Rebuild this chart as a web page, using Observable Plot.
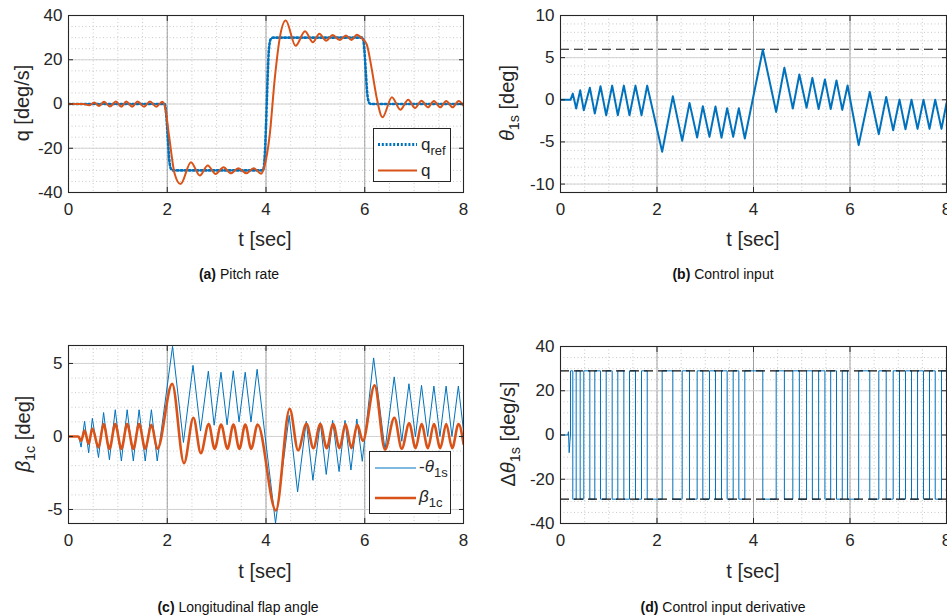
<!DOCTYPE html>
<html><head><meta charset="utf-8">
<script src="https://cdn.jsdelivr.net/npm/d3@7"></script>
<script src="https://cdn.jsdelivr.net/npm/@observablehq/plot@0.6"></script>
<style>
body{margin:0;background:#fff;}
#root{position:relative;width:947px;height:616px;overflow:hidden;background:#fff;font-family:"Liberation Sans",Arial,Helvetica,sans-serif;color:#262626;}
.panel{position:absolute;}
.lab{position:absolute;white-space:nowrap;font-size:20px;line-height:1;transform:translate(-50%,-50%);}
.ylab{transform:translate(-50%,-50%) rotate(-90deg);}
.cap{position:absolute;white-space:nowrap;font-size:14px;line-height:1;transform:translate(-50%,-50%);color:#111;}
.legend{position:absolute;background:#fff;border:1.3px solid #262626;box-sizing:border-box;}
.legend svg{position:absolute;left:0;top:0;overflow:visible;}
sub{font-size:0.72em;vertical-align:-0.35em;line-height:0;}
</style></head>
<body><div id="root"></div>
<script>
// ---------------- data ----------------
const xTicks = [0, 2, 4, 6, 8];
const aYTicks = [-40, -20, 0, 20, 40];
const bYTicks = [-10, -5, 0, 5, 10];
const cYTicks = [-5, 0, 5];
const dYTicks = [-40, -20, 0, 20, 40];

// (a) pitch rate reference
const qrefT = [0, 1.95, 1.98, 2.01, 2.04, 2.08, 2.12, 3.94, 3.97, 4.0, 4.03, 4.06, 4.1, 4.14, 5.96, 5.99, 6.02, 6.05, 6.09, 6.13, 8];
const qrefV = [0, 0, -5, -15, -25, -29.5, -30, -30, -25, -10, 10, 25, 29.5, 30, 30, 25, 15, 5, 0.5, 0, 0];
// (a) pitch rate response
const qT = [0, 0.3, 0.42, 0.52, 0.62, 0.72, 0.84, 0.96, 1.07, 1.17, 1.29, 1.4, 1.53, 1.65, 1.78, 1.9, 1.96, 2.04, 2.15, 2.27, 2.48, 2.66, 2.82, 2.98, 3.14, 3.29, 3.44, 3.6, 3.75, 3.9, 3.97, 4.07, 4.18, 4.28, 4.4, 4.6, 4.79, 4.95, 5.08, 5.22, 5.35, 5.49, 5.62, 5.73, 5.84, 5.95, 6.04, 6.14, 6.24, 6.36, 6.55, 6.72, 6.88, 7.02, 7.15, 7.28, 7.4, 7.53, 7.65, 7.78, 7.9, 8.0];
const qV = [0, 0, -0.6, 0.7, -0.9, 1.0, -1.1, 1.1, -1.2, 1.1, -1.2, 1.1, -1.2, 1.1, -1.2, 1.0, -2, -15, -31.5, -36.2, -26.3, -32.3, -27.8, -31.6, -28.6, -31.3, -29, -31.3, -29, -31.5, -28, -15, 12, 30, 37.7, 26.3, 32.9, 27.9, 31.7, 28.6, 31.2, 28.9, 31, 28.9, 31.3, 29.5, 27, 16, 3, -6, 3.1, -2.6, 1.9, -1.8, 1.5, -1.5, 1.4, -1.5, 1.4, -1.5, 1.4, -0.8];

// (b) control input theta_1s (vertices of the rate-limited zigzag)
const thetaT = [0, 0.207, 0.255, 0.325, 0.408, 0.483, 0.608, 0.711, 0.829, 0.947, 1.071, 1.188, 1.313, 1.43, 1.554, 1.679, 1.797, 2.107, 2.328, 2.522, 2.674, 2.832, 2.95, 3.088, 3.212, 3.337, 3.454, 3.579, 3.696, 3.82, 4.193, 4.47, 4.64, 4.815, 4.95, 5.1, 5.22, 5.35, 5.48, 5.6, 5.72, 5.84, 5.95, 6.18, 6.41, 6.597, 6.75, 6.895, 7.026, 7.15, 7.275, 7.4, 7.523, 7.648, 7.766, 7.896, 8.0];
const thetaV = [0, 0, 0.73, -1.04, 1.12, -1.24, 1.44, -1.64, 1.6, -1.83, 1.68, -1.83, 1.68, -1.83, 1.68, -1.83, 1.68, -6.17, 0.41, -4.87, -0.37, -4.47, -0.77, -4.4, -0.8, -4.5, -1.0, -4.4, -1.0, -4.6, 5.94, -1.44, 3.8, -1.04, 3.0, -0.95, 2.6, -1.1, 2.4, -1.1, 2.3, -1.2, 1.7, -5.38, 0.93, -4.08, 0.33, -3.61, 0.02, -3.5, 0, -3.45, 0, -3.45, 0, -3.45, -0.4];
const thetaLimit = 6;

// (c) longitudinal flap angle beta_1c
const betaT = [0, 0.2, 0.255, 0.325, 0.408, 0.483, 0.608, 0.711, 0.829, 0.947, 1.071, 1.188, 1.313, 1.43, 1.554, 1.679, 1.8, 2.1, 2.34, 2.53, 2.68, 2.84, 2.96, 3.09, 3.22, 3.34, 3.46, 3.58, 3.7, 3.83, 4.2, 4.48, 4.65, 4.82, 4.96, 5.1, 5.23, 5.36, 5.49, 5.61, 5.73, 5.85, 5.96, 6.2, 6.41, 6.6, 6.75, 6.9, 7.03, 7.15, 7.28, 7.4, 7.53, 7.65, 7.77, 7.9, 8.0];
const betaV = [0, 0, -0.3, 0.4, -0.5, 0.55, -0.75, 0.85, -0.85, 0.85, -0.85, 0.85, -0.85, 0.85, -0.85, 0.8, -0.85, 3.6, -1.83, 1.28, -1.14, 0.85, -0.85, 0.82, -0.85, 0.82, -0.85, 0.82, -0.85, 0.82, -5.07, 1.9, -0.95, 0.87, -0.8, 0.85, -0.8, 0.85, -0.8, 0.85, -0.8, 0.8, -0.3, 3.5, -0.9, 1.28, -0.84, 0.9, -0.8, 0.85, -0.8, 0.85, -0.8, 0.85, -0.8, 0.85, -0.5];

// (d) control input derivative
const rateLimit = 29;
const dStartT = [0, 0.15, 0.165, 0.18, 0.195, 0.207];
const dStartV = [0, 0, 1.5, -8, -3, 0];

// ---------------- build tables ----------------
const zip = (T, V) => T.map((t, i) => ({t, v: V[i]}));
const qref = zip(qrefT, qrefV);
const q = zip(qT, qV);
const theta = zip(thetaT, thetaV);
const negTheta = theta.map(d => ({t: d.t, v: -d.v}));
const beta = zip(betaT, betaV);
const dTheta = zip(dStartT, dStartV);
for (let i = 1; i < thetaT.length - 1; i++) {
  const r = Math.sign(thetaV[i + 1] - thetaV[i]) * rateLimit;
  dTheta.push({t: thetaT[i], v: r}, {t: thetaT[i + 1], v: r});
}

const BLUE = "#0072BD", ORANGE = "#D95319";
const FONT = '"Liberation Sans", Arial, Helvetica, sans-serif';
const xMinor = d3.range(0, 8.001, 0.5);

function panel({left, top, width, height, margins, yDomain, yTicks, yMinor, marks}) {
  const [mt, mr, mb, ml] = margins;
  const fmt = d => String(d);
  const svg = Plot.plot({
    width, height, marginTop: mt, marginRight: mr, marginBottom: mb, marginLeft: ml,
    style: {fontFamily: FONT, fontSize: "17px", color: "#262626", background: "transparent", overflow: "visible"},
    x: {domain: [0, 8]},
    y: {domain: yDomain},
    marks: [
      Plot.ruleX(xMinor, {stroke: "#bdbdbd", strokeDasharray: "1,2.5", strokeWidth: 0.8}),
      Plot.ruleY(yMinor, {stroke: "#bdbdbd", strokeDasharray: "1,2.5", strokeWidth: 0.8}),
      Plot.ruleX(xTicks, {stroke: "#8a8a8a", strokeWidth: 0.8}),
      Plot.ruleY(yTicks, {stroke: "#cfcfcf", strokeWidth: 0.9}),
      ...marks,
      Plot.frame({stroke: "#262626", strokeWidth: 1.1}),
      Plot.axisX({ticks: xTicks, anchor: "bottom", tickSize: -5, tickPadding: 15, tickFormat: fmt, label: null, stroke: "#262626", fill: "#262626"}),
      Plot.axisX({ticks: xTicks, anchor: "top", tickSize: -5, tickFormat: () => "", label: null, stroke: "#262626"}),
      Plot.axisY({ticks: yTicks, anchor: "left", tickSize: -5, tickPadding: 11, tickFormat: fmt, label: null, stroke: "#262626", fill: "#262626"}),
      Plot.axisY({ticks: yTicks, anchor: "right", tickSize: -5, tickFormat: () => "", label: null, stroke: "#262626"})
    ]
  });
  const div = document.createElement("div");
  div.className = "panel";
  div.style.left = left + "px";
  div.style.top = top + "px";
  div.appendChild(svg);
  root.appendChild(div);
}

const root = document.getElementById("root");

// (a)
panel({
  left: 0, top: 0, width: 470, height: 225, margins: [15, 7, 33, 68],
  yDomain: [-40, 40], yTicks: aYTicks, yMinor: d3.range(-40, 40.001, 5),
  marks: [
    Plot.line(qref, {x: "t", y: "v", stroke: BLUE, strokeWidth: 2.6, strokeDasharray: "1.6,2.4", curve: "monotone-x", clip: true}),
    Plot.line(q, {x: "t", y: "v", stroke: ORANGE, strokeWidth: 2, curve: "monotone-x", clip: true})
  ]
});
// (b)
panel({
  left: 470, top: 0, width: 477, height: 225, margins: [15, 1, 33, 90],
  yDomain: [-11, 10], yTicks: bYTicks, yMinor: d3.range(-11, 10.001, 1),
  marks: [
    Plot.ruleY([thetaLimit], {stroke: "#111", strokeWidth: 1.1, strokeDasharray: "9,5"}),
    Plot.line(theta, {x: "t", y: "v", stroke: BLUE, strokeWidth: 2, clip: true})
  ]
});
// (c)
panel({
  left: 0, top: 330, width: 470, height: 225, margins: [15, 7, 32, 68],
  yDomain: [-5.96, 6.23], yTicks: cYTicks, yMinor: d3.range(-5, 6.001, 1),
  marks: [
    Plot.line(negTheta, {x: "t", y: "v", stroke: BLUE, strokeWidth: 1, clip: true}),
    Plot.line(beta, {x: "t", y: "v", stroke: ORANGE, strokeWidth: 2.6, curve: "monotone-x", clip: true})
  ]
});
// (d)
panel({
  left: 470, top: 330, width: 477, height: 225, margins: [16, 1, 32, 90],
  yDomain: [-40, 40], yTicks: dYTicks, yMinor: d3.range(-40, 40.001, 5),
  marks: [
    Plot.line(dTheta, {x: "t", y: "v", stroke: BLUE, strokeWidth: 1, clip: true}),
    Plot.ruleY([rateLimit, -rateLimit], {stroke: "#111", strokeWidth: 1.1, strokeDasharray: "9,5"})
  ]
});

// ---------------- labels, legends, captions ----------------
function addHTML(html) { root.insertAdjacentHTML("beforeend", html); }
addHTML(`<div class="lab ylab" style="left:22px;top:103px">q [deg/s]</div>`);
addHTML(`<div class="lab ylab" style="left:507px;top:103px"><i>θ</i><sub>1s</sub> [deg]</div>`);
addHTML(`<div class="lab ylab" style="left:23px;top:434px"><i>β</i><sub>1c</sub> [deg]</div>`);
addHTML(`<div class="lab ylab" style="left:508px;top:434px">Δ<i>θ</i><sub>1s</sub> [deg/s]</div>`);
for (const [x, y] of [[265, 239], [753, 239], [265, 571], [753, 571]]) {
  addHTML(`<div class="lab" style="left:${x}px;top:${y}px">t [sec]</div>`);
}
addHTML(`<div class="cap" style="left:239px;top:274px"><b>(a)</b> Pitch rate</div>`);
addHTML(`<div class="cap" style="left:723px;top:274px"><b>(b)</b> Control input</div>`);
addHTML(`<div class="cap" style="left:238px;top:607px"><b>(c)</b> Longitudinal flap angle</div>`);
addHTML(`<div class="cap" style="left:723px;top:607px"><b>(d)</b> Control input derivative</div>`);

addHTML(`<div class="legend" style="left:373px;top:128px;width:78px;height:54px">
<svg width="78" height="54" font-family='${FONT}' font-size="17" fill="#262626">
<line x1="4" x2="43" y1="15.5" y2="15.5" stroke="${BLUE}" stroke-width="3" stroke-dasharray="2,1.8"/>
<text x="47" y="20.5">q<tspan font-size="13" dy="5">ref</tspan></text>
<line x1="4" x2="43" y1="41.5" y2="41.5" stroke="${ORANGE}" stroke-width="2"/>
<text x="47" y="46.5">q</text>
</svg></div>`);
addHTML(`<div class="legend" style="left:369px;top:451px;width:82px;height:63px">
<svg width="82" height="63" font-family='${FONT}' font-size="17" fill="#262626">
<line x1="5" x2="46" y1="16" y2="16" stroke="${BLUE}" stroke-width="1"/>
<text x="49" y="20">-<tspan font-style="italic">θ</tspan><tspan font-size="13" dy="5">1s</tspan></text>
<line x1="5" x2="46" y1="46" y2="46" stroke="${ORANGE}" stroke-width="2.6"/>
<text x="49" y="50"><tspan font-style="italic">β</tspan><tspan font-size="13" dy="5">1c</tspan></text>
</svg></div>`);
</script>
</body></html>
